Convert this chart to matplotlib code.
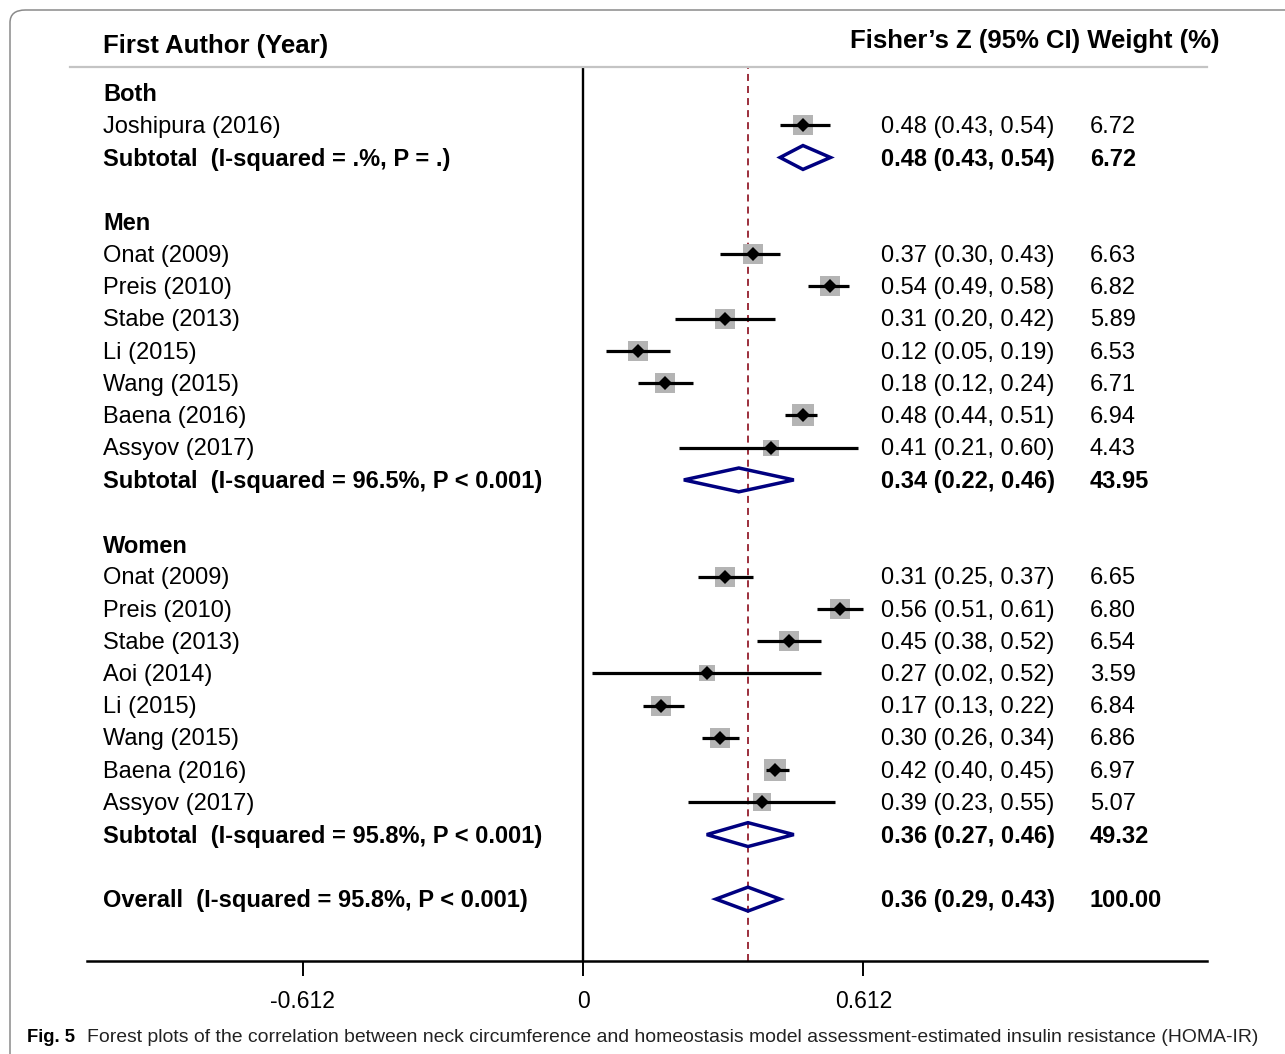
"""Forest plot: neck circumference vs HOMA-IR (Fisher's Z)."""

import matplotlib
matplotlib.use("Agg")
import matplotlib.pyplot as plt
from matplotlib.lines import Line2D
from matplotlib.patches import FancyBboxPatch, Polygon

plt.rcParams["font.family"] = ["Liberation Sans", "DejaVu Sans"]

# ---- data ------------------------------------------------------------- #
groups = ["Both", "Men", "Women"]

study_group = [0,
               1, 1, 1, 1, 1, 1, 1,
               2, 2, 2, 2, 2, 2, 2, 2]
study_names = ["Joshipura (2016)",
               "Onat (2009)", "Preis (2010)", "Stabe (2013)", "Li (2015)",
               "Wang (2015)", "Baena (2016)", "Assyov (2017)",
               "Onat (2009)", "Preis (2010)", "Stabe (2013)", "Aoi (2014)",
               "Li (2015)", "Wang (2015)", "Baena (2016)", "Assyov (2017)"]
est = [0.48,
       0.37, 0.54, 0.31, 0.12, 0.18, 0.48, 0.41,
       0.31, 0.56, 0.45, 0.27, 0.17, 0.30, 0.42, 0.39]
lo = [0.43,
      0.30, 0.49, 0.20, 0.05, 0.12, 0.44, 0.21,
      0.25, 0.51, 0.38, 0.02, 0.13, 0.26, 0.40, 0.23]
hi = [0.54,
      0.43, 0.58, 0.42, 0.19, 0.24, 0.51, 0.60,
      0.37, 0.61, 0.52, 0.52, 0.22, 0.34, 0.45, 0.55]
weight = [6.72,
          6.63, 6.82, 5.89, 6.53, 6.71, 6.94, 4.43,
          6.65, 6.80, 6.54, 3.59, 6.84, 6.86, 6.97, 5.07]

sub_est = [0.48, 0.34, 0.36]
sub_lo = [0.43, 0.22, 0.27]
sub_hi = [0.54, 0.46, 0.46]
sub_weight = [6.72, 43.95, 49.32]
sub_stats = ["I-squared = .%, P = .",
             "I-squared = 96.5%, P < 0.001",
             "I-squared = 95.8%, P < 0.001"]

overall_est, overall_lo, overall_hi = 0.36, 0.29, 0.43
overall_stats = "I-squared = 95.8%, P < 0.001"

xticks = [-0.612, 0, 0.612]
xtick_labels = ["-0.612", "0", "0.612"]

# ---- layout ----------------------------------------------------------- #
W, H = 1285, 1054
fig = plt.figure(figsize=(W / 100, H / 100), dpi=100)
ax = fig.add_axes([87 / W, (H - 961) / H, 1120 / W, (961 - 67) / H])
ax.set_xlim(-1.0823, 1.3616)
ax.set_ylim(26.92, -0.806)

FS = 17
LBL_X, EST_X, WT_X = 0.0143, 0.709, 0.8955
TXT_DY = 0.05  # text sits a hair below the marker centre
tr = ax.get_yaxis_transform()
fmt = "{:.2f} ({:.2f}, {:.2f})"


def row_text(r, label, e, l, h, w, bold=False):
    fw = "bold" if bold else "normal"
    y = r + TXT_DY
    ax.text(LBL_X, y, label, transform=tr, fontsize=FS, weight=fw,
            va="center", ha="left", clip_on=False)
    if e is not None:
        ax.text(EST_X, y, fmt.format(e, l, h), transform=tr, fontsize=FS,
                weight=fw, va="center", ha="left")
        ax.text(WT_X, y, "{:.2f}".format(w), transform=tr, fontsize=FS,
                weight=fw, va="center", ha="left")


def diamond(r, e, l, h):
    ax.add_patch(Polygon([(l, r), (e, r - 0.37), (h, r), (e, r + 0.37)],
                         closed=True, fill=False, ec="#000080", lw=2.5,
                         joinstyle="miter", zorder=4))


r = 0
for g, name in enumerate(groups):
    row_text(r, name, None, None, None, None, bold=True)
    r += 1
    for i in range(len(study_names)):
        if study_group[i] != g:
            continue
        ax.scatter(est[i], r, s=33 * weight[i], marker="s",
                   color="#b4b4b4", linewidths=0, zorder=2)
        ax.plot([lo[i], hi[i]], [r, r], color="black", lw=2.3,
                solid_capstyle="butt", zorder=3)
        ax.plot(est[i], r, marker="D", ms=6.8, mew=0, color="black",
                zorder=4)
        row_text(r, study_names[i], est[i], lo[i], hi[i], weight[i])
        r += 1
    diamond(r, sub_est[g], sub_lo[g], sub_hi[g])
    row_text(r, "Subtotal  ({})".format(sub_stats[g]),
             sub_est[g], sub_lo[g], sub_hi[g], sub_weight[g], bold=True)
    r += 2

diamond(r, overall_est, overall_lo, overall_hi)
row_text(r, "Overall  ({})".format(overall_stats),
         overall_est, overall_lo, overall_hi, 100.0, bold=True)

# reference lines
ax.axvline(0, color="black", lw=1.7, zorder=1)
ax.axvline(overall_est, color="#9c2f3c", lw=1.4, dashes=(3.6, 2.6), zorder=1)

# axis
for side in ("top", "left", "right"):
    ax.spines[side].set_visible(False)
ax.spines["bottom"].set_linewidth(1.8)
ax.set_yticks([])
ax.set_xticks(xticks)
ax.set_xticklabels(xtick_labels)
ax.tick_params(axis="x", length=11, width=1.4, pad=10, labelsize=16.5)
ax.patch.set_visible(False)

# header
ax.text(LBL_X, -1.45, "First Author (Year)", transform=tr, fontsize=18.5,
        weight="bold", va="center", ha="left", clip_on=False)
ax.text(1.0116, -1.62, "Fisher\u2019s Z (95% CI) Weight (%)", transform=tr,
        fontsize=18.5, weight="bold", va="center", ha="right", clip_on=False)
ax.add_line(Line2D([-0.0152, 1.0], [1.0, 1.0], transform=ax.transAxes,
                   color="#c4c4c4", lw=1.6, clip_on=False))

# frame and caption
fig.patches.append(FancyBboxPatch((10 / W, -0.05), 1.2, 1 - 10 / H + 0.05,
                                  boxstyle="round,pad=0,rounding_size=0.012",
                                  transform=fig.transFigure, fill=False,
                                  ec="#8a8a8a", lw=1.1))
cap_y = 1 - 1037 / H
cap1 = fig.text(27 / W, cap_y, "Fig. 5", fontsize=15, weight="bold",
                va="center", ha="left")
cap2 = fig.text(87 / W, cap_y,
                "Forest plots of the correlation between neck circumference and "
                "homeostasis model assessment-estimated insulin resistance (HOMA-IR)",
                fontsize=15, va="center", ha="left", color="#222222")

# the original caption is set in a condensed face: fit widths instead
fig.canvas.draw()
rend = fig.canvas.get_renderer()
for t, target in ((cap1, 48), (cap2, 1175)):
    wpx = t.get_window_extent(rend).width
    t.set_fontsize(t.get_fontsize() * target / wpx)

fig.savefig("out.png", dpi=100)
